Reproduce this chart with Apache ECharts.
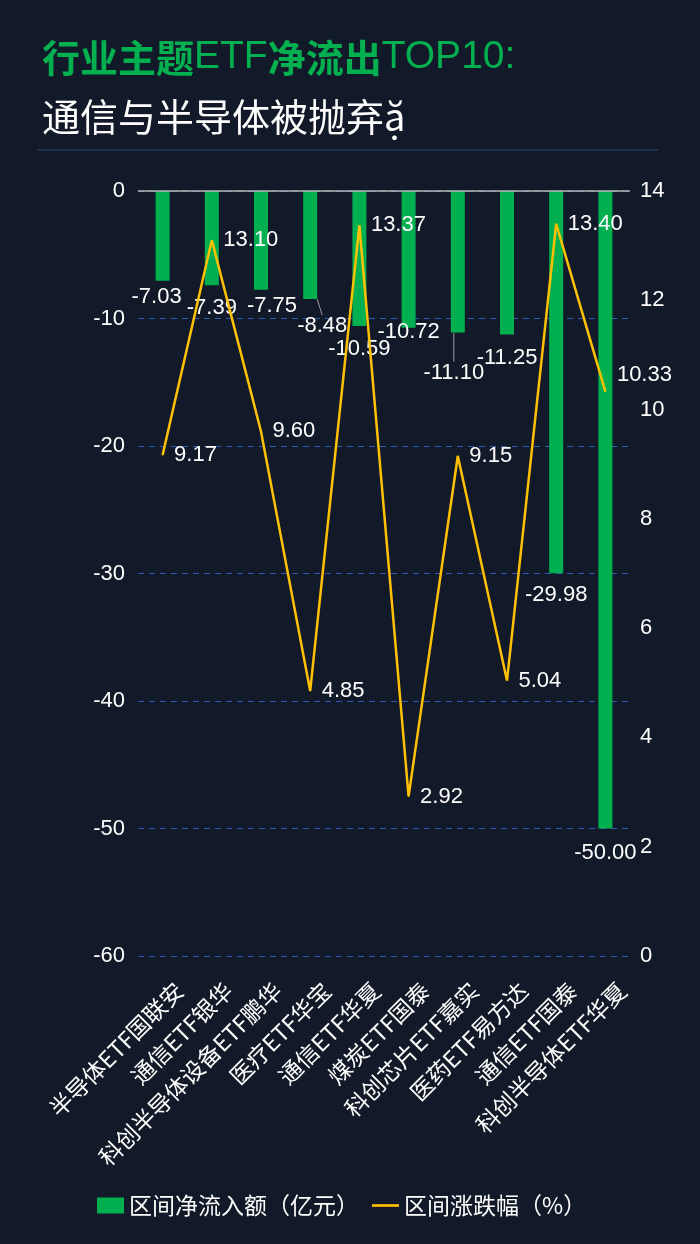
<!DOCTYPE html>
<html>
<head>
<meta charset="utf-8">
<script src="https://cdn.jsdelivr.net/npm/echarts@6/dist/echarts.min.js"></script>
<style>
html,body{margin:0;padding:0;background:#121a29;}
#c{width:700px;height:1244px;}
</style>
</head>
<body>
<div id="c"></div>
<script>
var categories = ['半导体ETF国联安','通信ETF银华','科创半导体设备ETF鹏华','医疗ETF华宝','通信ETF华夏','煤炭ETF国泰','科创芯片ETF嘉实','医药ETF易方达','通信ETF国泰','科创半导体ETF华夏'];
var netFlow = [-7.03,-7.39,-7.75,-8.48,-10.59,-10.72,-11.10,-11.25,-29.98,-50.00];
var change = [9.17,13.10,9.60,4.85,13.37,2.92,9.15,5.04,13.40,10.33];
var barName = '区间净流入额（亿元）';
var lineName = '区间涨跌幅（%）';

var FONT = '"Liberation Sans","Noto Sans CJK SC",sans-serif';
var CJK = '"Noto Sans CJK SC",sans-serif';

// label nudges emulating the overlap avoidance of the original
var barLabelDX = [-6, 0, 11, 12, 0, 0, -4, 0, 0, 0];
var barLabelDY = [0, 7, 0, 11, 7, -12, 24, 7, 6, 8];
var guided = [3, 6];

var chart = echarts.init(document.getElementById('c'), null, {renderer:'canvas'});
chart.setOption({
  backgroundColor: '#121a29',
  textStyle: {fontFamily: FONT},
  title: [{
    left: 37, top: 33,
    text: '{b|行业主题}{n|ETF}{b|净流出}{n|TOP10:}',
    textStyle: {
      rich: {
        b: {fontSize: 38, fontWeight: 'bold', color: '#00b050', fontFamily: CJK},
        n: {fontSize: 39, fontWeight: 'normal', color: '#00b050', fontFamily: '"Liberation Sans",sans-serif'}
      }
    }
  },{
    left: 37, top: 93,
    text: '通信与半导体被抛弃ặ',
    textStyle: {fontSize: 38, fontWeight: 'normal', color: '#ffffff', fontFamily: CJK}
  }],
  graphic: [{
    type: 'line', shape: {x1: 37, y1: 150, x2: 658, y2: 150},
    style: {stroke: '#27385a', lineWidth: 1.5}
  }],
  legend: {
    bottom: 22, left: 92,
    itemWidth: 27, itemHeight: 16, itemGap: 13,
    textStyle: {color: '#ffffff', fontSize: 23, fontFamily: CJK},
    data: [
      {name: barName, icon: 'rect'},
      {name: lineName, icon: 'path://M0 0H40V4H0Z'}
    ]
  },
  grid: {left: 138, right: 70, top: 191, bottom: 288},
  xAxis: {
    type: 'category', data: categories,
    axisLine: {show: false}, axisTick: {show: false},
    axisLabel: {interval: 0, rotate: 45, margin: 14, verticalAlign: 'top', padding: [12, 0, 0, 0],
      color: '#ffffff', fontSize: 23, fontFamily: CJK}
  },
  yAxis: [{
    type: 'value', min: -60, max: 0, interval: 10,
    axisLine: {show: false}, axisTick: {show: false},
    axisLabel: {color: '#ffffff', fontSize: 22, margin: 13},
    splitLine: {show: true, lineStyle: {color: '#2f5cb0', type: [6, 5], width: 1.2}}
  },{
    type: 'value', min: 0, max: 14, interval: 2,
    axisLine: {show: false}, axisTick: {show: false},
    axisLabel: {color: '#ffffff', fontSize: 22, margin: 10},
    splitLine: {show: false}
  }],
  series: [{
    name: barName, type: 'bar', yAxisIndex: 0,
    data: netFlow.map(function(v, i){
      return guided.indexOf(i) >= 0 ? {value: v, labelLine: {show: true}} : v;
    }),
    barWidth: 14,
    itemStyle: {color: '#00b050'},
    label: {show: true, position: 'bottom', distance: 5, color: '#ffffff', fontSize: 22,
      formatter: function(p){ return (+p.value).toFixed(2); }},
    labelLine: {show: false, lineStyle: {color: '#9a9a9a', width: 1}},
    labelLayout: function(p){ return {dx: barLabelDX[p.dataIndex], dy: barLabelDY[p.dataIndex]}; },
    markLine: {
      silent: true, symbol: 'none', label: {show: false},
      lineStyle: {color: '#b8b8b8', type: 'solid', width: 1.5},
      data: [{yAxis: 0}]
    }
  },{
    name: lineName, type: 'line', data: change, yAxisIndex: 1,
    symbol: 'circle', symbolSize: 1, showSymbol: true,
    lineStyle: {color: '#ffc000', width: 2.5},
    itemStyle: {color: '#ffc000'},
    label: {show: true, position: 'right', distance: 11, color: '#ffffff', fontSize: 22,
      formatter: function(p){ return p.value.toFixed(2); }},
    labelLine: {show: false},
    labelLayout: function(p){ return p.dataIndex === change.length - 1 ? {dy: -17} : {}; }
  }]
});
</script>
</body>
</html>
